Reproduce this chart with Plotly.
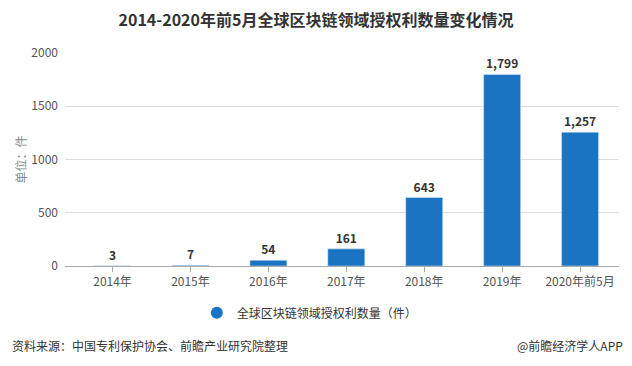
import plotly.graph_objects as go

categories = ["2014年", "2015年", "2016年", "2017年", "2018年", "2019年", "2020年前5月"]
values = [3, 7, 54, 161, 643, 1799, 1257]
series_name = "全球区块链领域授权利数量（件）"
y_ticks = [0, 500, 1000, 1500, 2000]

FONT = "Microsoft YaHei, Noto Sans CJK SC, sans-serif"
BLUE = "#1a74c1"

fig = go.Figure()
fig.add_trace(go.Bar(
    x=categories, y=values, marker_color=BLUE, width=0.475,
    texttemplate="<b>%{y:,}</b>", textposition="outside", cliponaxis=False,
    textfont=dict(size=12, color="#333333", family=FONT),
    showlegend=False,
))
fig.add_trace(go.Scatter(
    x=[None], y=[None], mode="markers", name=series_name,
    marker=dict(symbol="circle", size=12, color=BLUE),
))

fig.update_layout(
    width=632, height=366,
    margin=dict(l=65, r=13, t=53, b=100),
    paper_bgcolor="white", plot_bgcolor="white",
    font=dict(family=FONT, color="#555555", size=12),
    title=dict(text="<b>2014-2020年前5月全球区块链领域授权利数量变化情况</b>",
               x=0.5, xanchor="center", y=0.945, yanchor="middle",
               font=dict(size=16, color="#333333", family=FONT)),
    showlegend=True,
    legend=dict(orientation="h", x=0.238, xanchor="left", y=-0.22, yanchor="middle",
                font=dict(size=12, color="#333333", family=FONT),
                itemsizing="trace"),
    bargap=0.5,
)
fig.update_xaxes(
    range=[-0.61, 6.5], showline=True, linecolor="#aaaaaa", linewidth=1,
    ticks="outside", ticklen=5, tickcolor="#aaaaaa",
    tickfont=dict(size=12, color="#555555"), showgrid=False,
)
fig.update_yaxes(
    range=[0, 2000], tickvals=y_ticks, ticktext=[str(v) for v in y_ticks],
    showgrid=True, gridcolor="#dddddd", gridwidth=1, zeroline=False,
    tickfont=dict(size=12, color="#555555"), ticks="", ticklabelstandoff=6,
)
fig.add_annotation(text="单位：件", xref="paper", yref="paper", x=-0.1, y=0.5,
                   textangle=-90, showarrow=False,
                   font=dict(size=12, color="#888888", family=FONT))
fig.add_annotation(text="资料来源：中国专利保护协会、前瞻产业研究院整理", xref="paper", yref="paper",
                   x=-0.1, xanchor="left", y=-0.375, yanchor="middle", showarrow=False,
                   xshift=0,
                   font=dict(size=12, color="#333333", family=FONT))
fig.add_annotation(text="@前瞻经济学人APP", xref="paper", yref="paper",
                   x=1.0, xanchor="right", y=-0.375, yanchor="middle", showarrow=False,
                   xshift=6,
                   font=dict(size=12, color="#333333", family=FONT))
fig.write_html("out.html", config={"displayModeBar": False},
               post_script="document.body.style.margin='0';")
